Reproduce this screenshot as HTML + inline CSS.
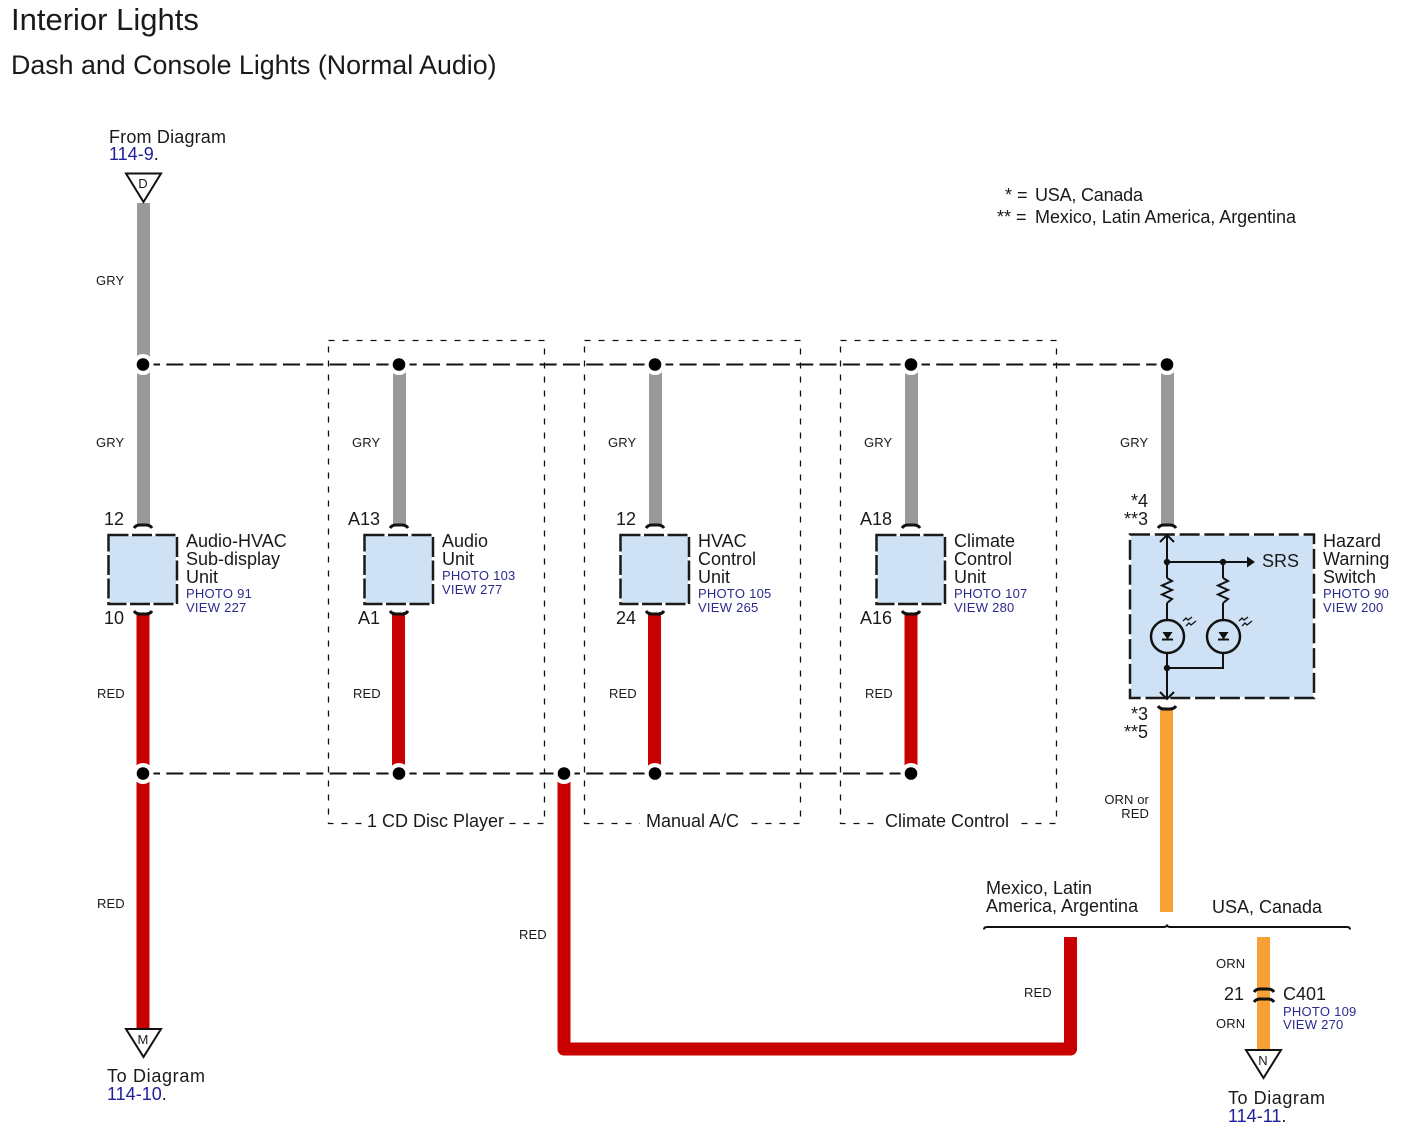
<!DOCTYPE html>
<html><head><meta charset="utf-8"><style>
html,body{margin:0;padding:0;background:#fff}
svg{display:block}
text{font-family:"Liberation Sans",sans-serif;fill:#1a1a1a;font-size:18px}
text.s{font-size:13px;letter-spacing:.1px}
text.b{font-size:13px;fill:#2b2b8c;letter-spacing:.25px}
text.l{font-size:18px;fill:#20209a}
.dash{stroke:#111;stroke-width:2;stroke-dasharray:17 6.33;fill:none}
.fill{fill:#cfe2f5}
.box{fill:none;stroke:#1a1a1a;stroke-width:2.5;stroke-dasharray:20 3.5}
.frame{fill:none;stroke:#111;stroke-width:1.3;stroke-dasharray:6 8}
.arc{fill:none;stroke:#111;stroke-width:3}
.ln{fill:none;stroke:#111;stroke-width:2}
.tri{fill:#fff;stroke:#111;stroke-width:2}
</style></head><body>
<svg width="1407" height="1143" viewBox="0 0 1407 1143" xmlns="http://www.w3.org/2000/svg">
<rect width="1407" height="1143" fill="#fff"/>
<text x="11" y="30" style="font-size:31px">Interior Lights</text>
<text x="11" y="74" style="font-size:26.800px">Dash and Console Lights (Normal Audio)</text>

<text x="109" y="143" textLength="117">From Diagram</text>
<text x="109" y="160" class="l">114-9<tspan style="fill:#1a1a1a">.</tspan></text>
<text x="1005" y="201">* =</text><text x="1035" y="201" textLength="108">USA, Canada</text>
<text x="997" y="223">** =</text><text x="1035" y="223" textLength="261">Mexico, Latin America, Argentina</text>

<!-- dotted frames -->
<rect x="328.500" y="340.500" width="216" height="483" class="frame"/>
<rect x="584.500" y="340.500" width="216" height="483" class="frame"/>
<rect x="840.500" y="340.500" width="216" height="483" class="frame"/>
<rect x="362" y="812" width="146" height="20" fill="#fff"/>
<rect x="640" y="812" width="105" height="20" fill="#fff"/>
<rect x="880" y="812" width="134" height="20" fill="#fff"/>
<text x="367" y="827">1 CD Disc Player</text>
<text x="646" y="827">Manual A/C</text>
<text x="885" y="827">Climate Control</text>

<!-- dashed buses -->
<path d="M143 364.500H1167" class="dash"/>
<path d="M143 773.500H911" class="dash"/>

<!-- gray wires -->
<g fill="#999">
<rect x="137" y="203" width="13" height="322"/>
<rect x="393" y="364" width="13" height="161"/>
<rect x="649" y="364" width="13" height="161"/>
<rect x="905" y="364" width="13" height="161"/>
<rect x="1161" y="364" width="13" height="161"/>
</g>
<!-- red wires -->
<g fill="#c80000">
<rect x="136.500" y="614" width="13" height="414"/>
<rect x="392" y="614" width="13" height="159"/>
<rect x="648" y="614" width="13" height="159"/>
<rect x="904.500" y="614" width="13" height="159"/>
</g>
<path d="M564 773V1049H1070.500V937" fill="none" stroke="#c80000" stroke-width="13" stroke-linejoin="round"/>
<!-- orange wires -->
<g fill="#f7a035">
<rect x="1160" y="709" width="13" height="203"/>
<rect x="1257" y="937" width="13" height="116"/>
</g>

<!-- junction halos -->
<g fill="#fff">
<circle cx="143" cy="364.500" r="10.500"/><circle cx="399" cy="364.500" r="10.500"/>
<circle cx="655" cy="364.500" r="10.500"/><circle cx="911" cy="364.500" r="10.500"/>
<circle cx="1167" cy="364.500" r="10.500"/>
<circle cx="143" cy="773.500" r="10.500"/><circle cx="399" cy="773.500" r="10.500"/>
<circle cx="564" cy="773.500" r="10.500"/><circle cx="655" cy="773.500" r="10.500"/>
<circle cx="911" cy="773.500" r="10.500"/>
</g>
<!-- dots -->
<g fill="#000">
<circle cx="143" cy="364.500" r="6.300"/><circle cx="399" cy="364.500" r="6.300"/>
<circle cx="655" cy="364.500" r="6.300"/><circle cx="911" cy="364.500" r="6.300"/>
<circle cx="1167" cy="364.500" r="6.300"/>
<circle cx="143" cy="773.500" r="6.300"/><circle cx="399" cy="773.500" r="6.300"/>
<circle cx="564" cy="773.500" r="6.300"/><circle cx="655" cy="773.500" r="6.300"/>
<circle cx="911" cy="773.500" r="6.300"/>
</g>

<!-- arrow triangles -->
<path d="M126 173.500H161L143.500 202Z" class="tri"/>
<text x="143" y="188" class="s" text-anchor="middle">D</text>
<path d="M126 1029H161L143.500 1057Z" class="tri"/>
<text x="143" y="1044" class="s" text-anchor="middle">M</text>
<path d="M1246 1050H1281L1263.500 1078Z" class="tri"/>
<text x="1263" y="1065" class="s" text-anchor="middle">N</text>

<!-- unit boxes -->
<g class="fill">
<rect x="109.500" y="536" width="66.500" height="67"/>
<rect x="365.500" y="536" width="66.500" height="67"/>
<rect x="621.500" y="536" width="66.500" height="67"/>
<rect x="877.500" y="536" width="66.500" height="67"/>
<rect x="1131" y="535.500" width="182" height="161.500"/>
</g>
<rect x="108.500" y="535" width="68.500" height="69" class="box"/>
<rect x="364.500" y="535" width="68.500" height="69" class="box"/>
<rect x="620.500" y="535" width="68.500" height="69" class="box"/>
<rect x="876.500" y="535" width="68.500" height="69" class="box"/>
<rect x="1130" y="534.500" width="184" height="163.500" class="box" style="stroke-dasharray:20 4.800"/>

<!-- connector arcs -->
<g class="arc">
<path d="M134 528Q136 525 140 525H146Q150 525 152 528"/>
<path d="M134 611Q136 614 140 614H146Q150 614 152 611"/>
<path d="M390 528Q392 525 396 525H402Q406 525 408 528"/>
<path d="M390 611Q392 614 396 614H402Q406 614 408 611"/>
<path d="M646 528Q648 525 652 525H658Q662 525 664 528"/>
<path d="M646 611Q648 614 652 614H658Q662 614 664 611"/>
<path d="M902 528Q904 525 908 525H914Q918 525 920 528"/>
<path d="M902 611Q904 614 908 614H914Q918 614 920 611"/>
<path d="M1158 528Q1160 525 1164 525H1170Q1174 525 1176 528"/>
<path d="M1158 706Q1160 709 1164 709H1170Q1174 709 1176 706"/>
<path d="M1254 992Q1256 989 1260 989H1268Q1272 989 1274 992"/>
<path d="M1254 1002Q1256 999 1260 999H1268Q1272 999 1274 1002"/>
</g>

<!-- hazard internals -->
<g class="ln">
<path d="M1167 536V578M1167 603V620M1167 653V698"/>
<path d="M1160 542L1167 535L1174 542M1160 692L1167 699L1174 692"/>
<path d="M1167 562H1250"/>
<path d="M1223 562V578M1223 603V620M1223 653V668H1167"/>
<path d="M1167 578L1172 581L1162 585.500L1172 590L1162 594.500L1172 599L1167 603"/>
<path d="M1223 578L1228 581L1218 585.500L1228 590L1218 594.500L1228 599L1223 603"/>
<circle cx="1167.500" cy="636.500" r="16.500" stroke-width="2.500"/>
<circle cx="1223.500" cy="636.500" r="16.500" stroke-width="2.500"/>
<path d="M1162 639.500H1173M1218 639.500H1229"/>
<path d="M1183 621l3-3 2 2 4-3M1186 626l3-3 2 2 5-4M1239 621l3-3 2 2 4-3M1242 626l3-3 2 2 5-4" stroke-width="1.300"/>
</g>
<g fill="#111">
<circle cx="1167" cy="562" r="3.200"/><circle cx="1223" cy="562" r="3.200"/><circle cx="1167" cy="668" r="3.200"/>
<path d="M1247 556.500L1255 562L1247 567.500Z"/>
<path d="M1162.500 632H1172.500L1167.500 639.500ZM1218.500 632H1228.500L1223.500 639.500Z"/>
</g>

<!-- split bracket -->
<path d="M984 929.500Q984 927 987 927H1164Q1166 927 1167 925.500Q1168 927 1170 927H1347Q1350 927 1350 929.500" class="ln"/>
<text x="986" y="894">Mexico, Latin</text>
<text x="986" y="912">America, Argentina</text>
<text x="1212" y="913">USA, Canada</text>

<!-- wire labels -->
<g>
<text class="s" x="96" y="285">GRY</text><text class="s" x="96" y="447">GRY</text>
<text class="s" x="352" y="447">GRY</text><text class="s" x="608" y="447">GRY</text>
<text class="s" x="864" y="447">GRY</text><text class="s" x="1120" y="447">GRY</text>
<text class="s" x="97" y="698">RED</text><text class="s" x="353" y="698">RED</text>
<text class="s" x="609" y="698">RED</text><text class="s" x="865" y="698">RED</text>
<text class="s" x="97" y="908">RED</text><text class="s" x="519" y="939">RED</text>
<text class="s" x="1024" y="997">RED</text>
<text class="s" x="1149" y="804" text-anchor="end">ORN or</text>
<text class="s" x="1149" y="818" text-anchor="end">RED</text>
<text class="s" x="1216" y="968">ORN</text><text class="s" x="1216" y="1028">ORN</text>
</g>

<!-- pin labels -->
<g>
<text x="104" y="525">12</text><text x="104" y="624">10</text>
<text x="348" y="525">A13</text><text x="358" y="624">A1</text>
<text x="616" y="525">12</text><text x="616" y="624">24</text>
<text x="860" y="525">A18</text><text x="860" y="624">A16</text>
<text x="1148" y="507" text-anchor="end">*4</text>
<text x="1148" y="525" text-anchor="end">**3</text>
<text x="1148" y="720" text-anchor="end">*3</text>
<text x="1148" y="738" text-anchor="end">**5</text>
<text x="1224" y="1000">21</text>
<text x="1283" y="1000">C401</text>
</g>

<!-- unit labels -->
<text x="186" y="547">Audio-HVAC</text><text x="186" y="565">Sub-display</text><text x="186" y="583">Unit</text>
<text x="186" y="598" class="b">PHOTO 91</text><text x="186" y="612" class="b">VIEW 227</text>
<text x="442" y="547">Audio</text><text x="442" y="565">Unit</text>
<text x="442" y="580" class="b">PHOTO 103</text><text x="442" y="594" class="b">VIEW 277</text>
<text x="698" y="547">HVAC</text><text x="698" y="565">Control</text><text x="698" y="583">Unit</text>
<text x="698" y="598" class="b">PHOTO 105</text><text x="698" y="612" class="b">VIEW 265</text>
<text x="954" y="547">Climate</text><text x="954" y="565">Control</text><text x="954" y="583">Unit</text>
<text x="954" y="598" class="b">PHOTO 107</text><text x="954" y="612" class="b">VIEW 280</text>
<text x="1323" y="547">Hazard</text><text x="1323" y="565">Warning</text><text x="1323" y="583">Switch</text>
<text x="1323" y="598" class="b">PHOTO 90</text><text x="1323" y="612" class="b">VIEW 200</text>
<text x="1262" y="567">SRS</text>
<text x="1283" y="1016" class="b">PHOTO 109</text><text x="1283" y="1029" class="b">VIEW 270</text>

<text x="107" y="1082" textLength="98">To Diagram</text>
<text x="107" y="1100" class="l">114-10<tspan style="fill:#1a1a1a">.</tspan></text>
<text x="1228" y="1104" textLength="97">To Diagram</text>
<text x="1228" y="1122" class="l">114-11<tspan style="fill:#1a1a1a">.</tspan></text>
</svg>
</body></html>
